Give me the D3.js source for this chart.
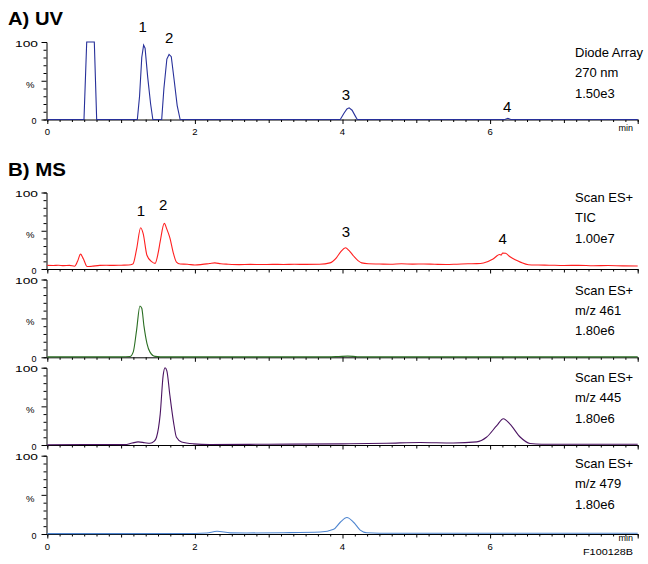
<!DOCTYPE html>
<html><head><meta charset="utf-8">
<script src="https://cdn.jsdelivr.net/npm/d3@7"></script>
<style>body{margin:0;background:#fff}svg{display:block;font-family:"Liberation Sans",Arial,sans-serif}</style>
</head><body><svg id="c" width="648" height="564"></svg>
<script>
// ---- data (time in min, intensity in %) ----
const uvData = [[0,0],[0.497,0],[0.534,100],[0.637,100],[0.669,0],[1.22,0],[1.25,30],[1.28,80],[1.305,96],[1.325,92],[1.36,55],[1.40,20],[1.43,0],
  [1.55,0],[1.58,40],[1.62,78],[1.65,84],[1.68,81],[1.72,50],[1.76,18],[1.80,0],
  [3.97,0],[4.02,8],[4.06,13.5],[4.09,15],[4.13,12],[4.17,5],[4.20,0],[6.20,0],[6.24,1.6],[6.28,0],[8.0,0]];
const ticData = [[0,4.8],[0.08,4.6],[0.15,4.9],[0.22,4.4],[0.3,4.7],[0.37,3.6],[0.41,10],[0.45,19.5],[0.49,13],[0.54,3.2],[0.6,3.5],[0.71,4.8],[0.8,4.9],[0.9,4.7],[1.0,5.0],[1.1,5.2],
  [1.16,6.5],[1.21,26],[1.265,54],[1.30,46],[1.35,18],[1.41,10],[1.46,7.4],[1.50,20],[1.53,36],[1.585,59.6],[1.62,52],[1.66,41],[1.71,20],[1.75,9],[1.80,6.5],
  [1.9,6.2],[2.0,5.2],[2.1,6],[2.2,7.2],[2.27,8],[2.35,6.8],[2.45,6.2],[2.6,5.7],[2.75,6.1],[2.9,5.8],[3.05,6.1],[3.2,5.9],[3.35,6.2],[3.5,6],[3.69,6.2],[3.83,8],
  [3.92,15],[3.98,23],[4.04,27.8],[4.09,24],[4.15,17],[4.21,11],[4.26,8],[4.35,6.8],[4.5,6.5],[4.65,6.2],[4.8,6.8],[4.95,6.4],[5.1,6.6],[5.25,6.2],[5.4,5.9],[5.55,6.3],[5.7,6.8],
  [5.82,7],[5.91,7.8],[6.04,13],[6.13,19],[6.15,18.2],[6.17,21],[6.21,20.5],[6.27,16],[6.34,12],[6.41,9],[6.52,5.6],[6.65,5.2],[6.8,5],[7.0,4.6],[7.2,4.8],[7.4,4.3],[7.6,4.5],[7.8,4.1],[8.0,4]];
const mz461Data = [[0,0.5],[0.5,0.6],[1.0,0.5],[1.12,1],[1.165,7],[1.21,35],[1.255,66],[1.28,63],[1.31,40],[1.35,18],[1.39,7],[1.46,1.2],[1.6,0.5],[3.8,0.5],[3.95,1],[4.07,1.5],[4.2,0.8],[4.4,0.5],[8.0,0.5]];
const mz445Data = [[0,0.4],[0.5,0.6],[1.05,0.5],[1.15,2.5],[1.23,4],[1.32,3],[1.39,2.2],[1.45,5],[1.48,10],[1.53,40],[1.57,90],[1.595,100],[1.62,96],[1.66,65],[1.71,30],[1.75,10],[1.82,4],[1.98,1.5],[2.2,0.6],
  [3.0,1],[4.0,1.5],[4.6,2.2],[5.05,3.3],[5.5,2.6],[5.82,4],[5.95,10],[6.09,25],[6.18,34],[6.27,27],[6.41,10],[6.54,2],[6.7,1],[8.0,1]];
const mz479Data = [[0,0.5],[1.0,0.5],[2.0,0.6],[2.16,1.2],[2.30,3.5],[2.48,1.5],[2.7,1.3],[3.2,1.6],[3.7,2.5],[3.88,6],[3.97,15],[4.06,21],[4.15,15],[4.24,5],[4.33,1.5],[4.5,1],[8.0,1]];

const panelLabels = [["Diode Array","270 nm","1.50e3"],["Scan ES+","TIC","1.00e7"],["Scan ES+","m/z 461","1.80e6"],["Scan ES+","m/z 445","1.80e6"],["Scan ES+","m/z 479","1.80e6"]];
const xTickLabels = [0,2,4,6];
// [label, time, level used to place the label baseline]
const peakLabelsUV = [["1",1.293,113],["2",1.65,98.7],["3",4.045,25],["4",6.23,9.7]];
const peakLabelsTIC = [["1",1.27,69.3],["2",1.57,77],["3",4.045,41.8],["4",6.17,32.7]];

// ---- layout ----
const seriesData = [uvData,ticData,mz461Data,mz445Data,mz479Data];
const colors = ["#27309a","#ff1f1f","#2a6e22","#4b1462","#4f86d0"];
const panels = [{t:42,b:119.5},{t:192.5,b:269},{t:279.5,b:357.3},{t:367.7,b:445},{t:455.7,b:534}];
const labelY = [57,202,294.5,382,468];
const x = d3.scaleLinear().domain([0,8]).range([47.3,637.7]);
const svg = d3.select("#c");

svg.append("text").attr("x",8).attr("y",25).attr("font-size",19).attr("font-weight","bold")
  .attr("textLength",55).attr("lengthAdjust","spacingAndGlyphs").text("A) UV");
svg.append("text").attr("x",8).attr("y",176).attr("font-size",19).attr("font-weight","bold")
  .attr("textLength",58).attr("lengthAdjust","spacingAndGlyphs").text("B) MS");

const minor = d3.range(0,49).map(i=>i/6);
panels.forEach((p,i)=>{
  const y = d3.scaleLinear().domain([0,100]).range([p.b,p.t]);
  const g = svg.append("g");
  // y axis
  const ya = g.append("g").attr("transform",`translate(${x(0)-0.8},0)`)
    .call(d3.axisLeft(y).tickValues(d3.range(0,101,10)).tickFormat("").tickSizeOuter(0).tickSize(3));
  ya.selectAll(".tick line").attr("x2",d=>(d%50===0)?-5:-3);
  // x axis
  const xa = g.append("g").attr("transform",`translate(0,${p.b})`)
    .call(d3.axisBottom(x).tickValues(minor).tickFormat("").tickSizeOuter(0).tickSize(2.5));
  xa.selectAll(".tick line").attr("y2",d=>(Math.abs(d-Math.round(d))<1e-6)?(Math.round(d)%2===0?4.5:3.5):2.5);
  // y labels
  g.append("text").attr("x",38).attr("y",y(100)+4.5).attr("text-anchor","end").attr("font-size",9)
    .attr("textLength",23).attr("lengthAdjust","spacingAndGlyphs").text("100");
  g.append("text").attr("x",34.5).attr("y",y(50)+7).attr("text-anchor","end").attr("font-size",9.5).text("%");
  g.append("text").attr("x",36.5).attr("y",y(0)+4.5).attr("text-anchor","end").attr("font-size",9).text("0");
  // trace
  const line = d3.line().x(d=>x(d[0])).y(d=>y(d[1])).curve(i===0?d3.curveLinear:d3.curveMonotoneX);
  g.append("path").datum(seriesData[i]).attr("d",line).attr("fill","none").attr("stroke",colors[i]).attr("stroke-width",1.1);
  // right labels
  panelLabels[i].forEach((t,k)=>{
    g.append("text").attr("x",575).attr("y",labelY[i]+k*20.3).attr("font-size",13).text(t);
  });
  // x tick labels
  if(i===0||i===4){
    xTickLabels.forEach(v=>{
      g.append("text").attr("x",x(v)).attr("y",p.b+15.5).attr("text-anchor","middle").attr("font-size",9.5).text(v);
    });
    g.append("text").attr("x",633).attr("y",p.b+(i===0?11.5:7)).attr("text-anchor","end").attr("font-size",9).text("min");
  }
  if(i===0||i===1){
    const pl = i===0?peakLabelsUV:peakLabelsTIC;
    pl.forEach(d=>{
      g.append("text").attr("x",x(d[1])).attr("y",y(d[2])).attr("text-anchor","middle").attr("font-size",15).text(d[0]);
    });
  }
});
svg.append("text").attr("x",633).attr("y",555).attr("text-anchor","end").attr("font-size",9.5)
  .attr("textLength",50).attr("lengthAdjust","spacingAndGlyphs").text("F100128B");
</script></body></html>
